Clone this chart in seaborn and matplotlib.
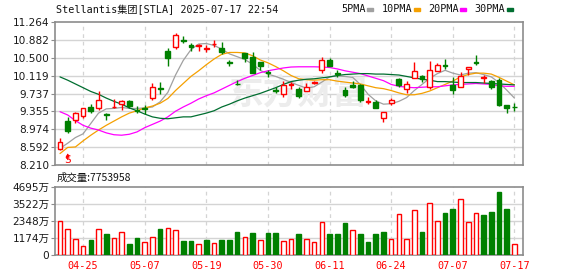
import numpy as np
import pandas as pd
import matplotlib
matplotlib.use("Agg")
import matplotlib.pyplot as plt
from matplotlib.patches import Rectangle
import seaborn as sns

# ---------------- data ----------------
dates = ['04-22', '04-23', '04-24', '04-25', '04-28', '04-29', '04-30', '05-01', '05-02',
         '05-05', '05-06', '05-07', '05-08', '05-09', '05-12', '05-13', '05-14', '05-15', '05-16',
         '05-19', '05-20', '05-21', '05-22', '05-23', '05-27', '05-28', '05-29', '05-30',
         '06-02', '06-03', '06-04', '06-05', '06-06', '06-09', '06-10', '06-11', '06-12', '06-13',
         '06-16', '06-17', '06-18', '06-20', '06-23', '06-24', '06-25', '06-26', '06-27',
         '06-30', '07-01', '07-02', '07-03', '07-07', '07-08', '07-09', '07-10', '07-11',
         '07-14', '07-15', '07-16', '07-17']

open_ = [8.565, 9.147, 9.168, 9.260, 9.452, 9.439, 9.300, 9.440, 9.509, 9.588,
         9.390, 9.430, 9.631, 9.860, 10.639, 10.718, 10.880, 10.774, 10.750, 10.680,
         10.780, 10.697, 10.400, 9.940, 10.590, 10.518, 10.405, 10.190, 9.820, 9.716,
         9.910, 9.829, 9.793, 9.951, 10.234, 10.447, 10.170, 9.808, 9.914, 9.914,
         9.560, 9.552, 9.217, 9.531, 10.036, 9.823, 10.070, 10.106, 9.878, 10.219,
         10.350, 9.914, 9.878, 10.256, 10.410, 10.070, 10.000, 10.021, 9.488, 9.460]
high = [8.799, 9.238, 9.345, 9.439, 9.524, 9.793, 9.324, 9.616, 9.595, 9.595,
        9.467, 9.482, 9.951, 9.972, 10.710, 11.017, 10.959, 10.803, 10.789, 10.767,
        10.874, 10.825, 10.447, 10.021, 10.603, 10.624, 10.411, 10.234, 9.865, 10.000,
        9.985, 9.878, 9.951, 10.000, 10.505, 10.483, 10.234, 9.865, 10.006, 9.936,
        9.652, 9.595, 9.345, 9.631, 10.057, 10.000, 10.405, 10.128, 10.426, 10.377,
        10.462, 10.078, 10.198, 10.292, 10.554, 10.128, 10.021, 10.057, 9.488, 9.537]
low = [8.528, 8.897, 9.119, 9.217, 9.324, 9.396, 9.183, 9.418, 9.381, 9.439,
       9.324, 9.311, 9.595, 9.737, 10.326, 10.688, 10.803, 10.646, 10.646, 10.625,
       10.731, 10.569, 10.319, 9.908, 10.411, 10.164, 10.234, 10.078, 9.750, 9.665,
       9.829, 9.644, 9.793, 9.936, 10.164, 10.313, 10.078, 9.665, 9.844, 9.559,
       9.509, 9.418, 9.132, 9.488, 9.878, 9.750, 10.057, 9.985, 9.823, 10.213,
       10.255, 9.722, 9.878, 10.128, 10.341, 9.964, 9.829, 9.467, 9.324, 9.367]
close = [8.705, 8.940, 9.324, 9.418, 9.366, 9.595, 9.280, 9.460, 9.580, 9.467,
         9.370, 9.410, 9.878, 9.830, 10.496, 10.980, 10.860, 10.731, 10.770, 10.700,
         10.800, 10.612, 10.380, 9.930, 10.496, 10.177, 10.326, 10.170, 9.800, 9.914,
         9.930, 9.680, 9.865, 9.985, 10.447, 10.326, 10.160, 9.701, 9.878, 9.595,
         9.580, 9.418, 9.345, 9.595, 9.908, 9.929, 10.213, 10.036, 10.234, 10.341,
         10.330, 9.808, 10.113, 10.292, 10.390, 10.090, 9.878, 9.488, 9.431, 9.445]

# volume in 万
volume = [2375, 1832, 1086, 611, 1038, 1832, 1445, 1154, 1561, 767,
          1174, 902, 1221, 1785, 1900, 1764, 970, 970, 746, 1038,
          814, 1038, 1038, 1583, 1221, 1516, 1038, 1516, 1516, 970,
          1086, 1445, 1086, 902, 2260, 1445, 1445, 2192, 1764, 1445,
          902, 1445, 1583, 1086, 2805, 1086, 3122, 1583, 3597, 2375,
          2871, 3142, 3868, 2260, 2918, 2760, 2938, 4363, 3142, 775]

ma5 = [8.57, 8.68, 8.80, 8.88, 9.10, 9.32, 9.41, 9.42, 9.44, 9.42,
       9.42, 9.43, 9.45, 9.56, 9.76, 10.13, 10.44, 10.67, 10.79, 10.80,
       10.76, 10.68, 10.58, 10.52, 10.46, 10.36, 10.23, 10.15, 10.10, 10.04,
       9.97, 9.91, 9.85, 9.88, 9.98, 10.09, 10.11, 10.10, 10.08, 9.93,
       9.72, 9.58, 9.51, 9.52, 9.57, 9.65, 9.80, 9.93, 10.06, 10.16,
       10.23, 10.17, 10.13, 10.17, 10.18, 10.14, 10.09, 9.97, 9.81, 9.64]
ma10 = [8.46, 8.59, 8.60, 8.73, 8.85, 8.96, 9.06, 9.15, 9.24, 9.32,
        9.37, 9.43, 9.47, 9.53, 9.63, 9.80, 9.95, 10.10, 10.22, 10.35,
        10.47, 10.57, 10.61, 10.61, 10.60, 10.54, 10.45, 10.39, 10.31, 10.22,
        10.12, 10.05, 10.03, 10.02, 10.03, 10.03, 10.00, 9.98, 9.96, 9.94,
        9.90, 9.86, 9.84, 9.80, 9.75, 9.71, 9.71, 9.74, 9.79, 9.86,
        9.93, 10.00, 10.09, 10.14, 10.17, 10.17, 10.15, 10.08, 10.00, 9.92]
ma20 = [9.35, 9.28, 9.16, 9.06, 9.00, 8.96, 8.90, 8.86, 8.85, 8.87,
        8.92, 9.01, 9.08, 9.15, 9.24, 9.36, 9.45, 9.53, 9.62, 9.69,
        9.75, 9.83, 9.91, 9.99, 10.06, 10.12, 10.18, 10.22, 10.25, 10.28,
        10.30, 10.305, 10.305, 10.305, 10.30, 10.29, 10.26, 10.22, 10.19, 10.16,
        10.11, 10.06, 10.01, 9.93, 9.89, 9.87, 9.86, 9.87, 9.88, 9.88,
        9.90, 9.92, 9.93, 9.94, 9.95, 9.94, 9.93, 9.90, 9.89, 9.89]
ma30 = [10.09, 10.02, 9.94, 9.86, 9.78, 9.72, 9.64, 9.57, 9.51, 9.43,
        9.37, 9.30, 9.24, 9.21, 9.20, 9.22, 9.24, 9.24, 9.28, 9.32,
        9.37, 9.45, 9.51, 9.58, 9.64, 9.69, 9.74, 9.80, 9.86, 9.93,
        9.99, 10.02, 10.04, 10.05, 10.07, 10.09, 10.12, 10.14, 10.15, 10.16,
        10.16, 10.15, 10.15, 10.14, 10.13, 10.10, 10.07, 10.04, 10.02, 9.99,
        9.99, 9.98, 9.97, 9.97, 9.97, 9.96, 9.95, 9.94, 9.93, 9.92]

ma_labels = ['5PMA', '10PMA', '20PMA', '30PMA']
ma_colors = ['#a0a0a0', '#f5a000', '#ff00ff', '#006e30']

price_ticks = ['8.210', '8.592', '8.974', '9.355', '9.737', '10.119', '10.500', '10.882', '11.264']
vol_ticks = [0, 1174, 2348, 3522, 4695]
vol_tick_labels = ['0', '1174万', '2348万', '3522万', '4695万']
date_ticks = ['04-25', '05-07', '05-19', '05-30', '06-11', '06-24', '07-07', '07-17']

title = 'Stellantis集团[STLA] 2025-07-17 22:54'
vol_title = '成交量:7753958'

# ---------------- style ----------------
sns.set_theme(style='white')
plt.rcParams['font.family'] = ['DejaVu Sans', 'Noto Sans CJK SC']
RED = '#ff0000'
GREEN = '#008000'
GRID = '#d4d4d4'
FRAME = '#8c8c8c'

n = len(dates)
x = np.arange(n)
o = np.array(open_); h = np.array(high); l = np.array(low); c = np.array(close)
up = c >= o
cand_col = [RED if u else GREEN for u in up]
prev = np.concatenate([[c[0] - 1], c[:-1]])
vup = c >= prev
vol_col = [RED if u else GREEN for u in vup]

fig = plt.figure(figsize=(5.78, 2.76), dpi=100)
W, H = 578, 276
L, R = 55, 522.5
ax = fig.add_axes([L / W, 1 - 165.3 / H, (R - L) / W, (165.3 - 21.7) / H])
axv = fig.add_axes([L / W, 1 - 255.3 / H, (R - L) / W, (255.3 - 186.7) / H])

xlim = (-0.65, 60.05)
tick_idx = [dates.index(d) for d in date_ticks]
pt = [float(t) for t in price_ticks]

for a in (ax, axv):
    a.set_xlim(*xlim)
    a.set_facecolor('white')
    for s in a.spines.values():
        s.set_color(FRAME)
        s.set_linewidth(1.2)
    for xi in tick_idx:
        a.axvline(xi, color=GRID, lw=0.9, ls=(0, (3, 3)), zorder=0)

# main panel
ax.set_ylim(pt[0], pt[-1])
for yv in pt[1:-1]:
    ax.axhline(yv, color=GRID, lw=1.0, zorder=0)

ax.text(0.52, 0.50, '东方财富', transform=ax.transAxes, fontsize=25, color='#ececec',
        ha='center', va='center', family=['Noto Sans CJK SC'], fontweight='bold', zorder=0)

# MA lines through seaborn
ma_df = pd.DataFrame({'x': np.tile(x, 4),
                      'v': np.concatenate([ma5, ma10, ma20, ma30]),
                      'ma': np.repeat(ma_labels, n)})
sns.lineplot(data=ma_df, x='x', y='v', hue='ma', palette=dict(zip(ma_labels, ma_colors)),
             ax=ax, legend=False, lw=0.9, zorder=2)

# candles
ax.vlines(x, l, h, colors=cand_col, lw=1.0, zorder=3)
body_lo = np.minimum(o, c)
body_h = np.maximum(np.abs(c - o), 0.008)
ax.bar(x, body_h, bottom=body_lo, width=0.62,
       color=['white' if u else GREEN for u in up], edgecolor=cand_col, lw=1.0, zorder=4)

ax.set_yticks(pt)
ax.set_yticklabels(price_ticks)
ax.set_xticks(tick_idx)
ax.set_xticklabels([])
ax.set_xlabel(''); ax.set_ylabel('')

# buy marker under second candle
ax.annotate('S', xy=(1, 0.085), xycoords=ax.get_xaxis_transform(),
            xytext=(1, 0.005), textcoords=ax.get_xaxis_transform(),
            ha='center', va='bottom', color=RED, fontsize=8, family='DejaVu Sans Mono',
            arrowprops=dict(arrowstyle='-|>', color=RED, lw=0.8, mutation_scale=5,
                            shrinkA=0, shrinkB=0))

# volume panel
axv.set_ylim(0, vol_ticks[-1])
for yv in vol_ticks[1:-1]:
    axv.axhline(yv, color=GRID, lw=1.0, zorder=0)
axv.bar(x, volume, width=0.6, color=['white' if u else GREEN for u in vup],
        edgecolor=vol_col, lw=1.0, zorder=3)
axv.set_yticks(vol_ticks)
axv.set_yticklabels(vol_tick_labels)
axv.set_xticks(tick_idx)
axv.set_xticklabels(date_ticks, color=RED, family='DejaVu Sans Mono', fontsize=7.3)
axv.set_xlabel(''); axv.set_ylabel('')

for a in (ax, axv):
    a.tick_params(axis='y', direction='out', length=3, width=0.8, color=FRAME,
                  labelsize=7.6, labelcolor='#1a1a1a', pad=1, left=True)
    a.tick_params(axis='x', length=0, pad=4)

# titles and legend
fig.text(55.5 / W, 1 - 9.5 / H, title, fontsize=7.3, va='center', ha='left',
         family=['DejaVu Sans Mono', 'Noto Sans CJK SC'], color='#111111')
leg_x = [341, 382, 428, 474]
sq_x = [367, 414, 460, 507]
for lab, col, tx, sx in zip(ma_labels, ma_colors, leg_x, sq_x):
    fig.text(tx / W, 1 - 9.5 / H, lab, fontsize=7.3, va='center', ha='left',
             family='DejaVu Sans Mono', color='#111111')
    fig.patches.append(Rectangle((sx / W, 1 - 11 / H), 5.5 / W, 3 / H,
                                 transform=fig.transFigure, color=col, figure=fig))
fig.text(57 / W, 1 - 177.5 / H, vol_title, fontsize=7.5, va='center', ha='left',
         family=['Noto Sans CJK SC', 'DejaVu Sans'], color='#111111')

fig.savefig('out.png', dpi=100)
